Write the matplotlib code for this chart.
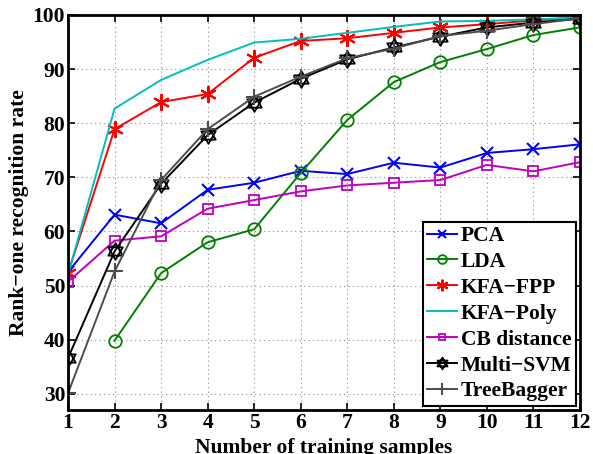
import matplotlib
matplotlib.use("Agg")
import matplotlib.pyplot as plt
import numpy as np
from matplotlib.path import Path

plt.rcParams['font.family'] = ['Liberation Serif', 'DejaVu Serif']
plt.rcParams['font.weight'] = 'bold'

samples = list(range(1, 13))
pca = [52.5, 63.1, 61.5, 67.7, 69.0, 71.2, 70.6, 72.7, 71.8, 74.5, 75.2, 76.1]
lda_x = list(range(2, 13))
lda = [39.8, 52.3, 58.0, 60.4, 70.8, 80.6, 87.6, 91.3, 93.7, 96.3, 97.7]
kfa_fpp = [52.3, 78.9, 83.9, 85.4, 92.1, 95.2, 95.7, 96.7, 97.7, 98.3, 99.0, 99.6]
kfa_poly = [52.0, 82.7, 88.0, 91.7, 94.9, 95.6, 96.7, 97.8, 98.8, 98.9, 99.2, 99.5]
cb_dist = [50.7, 58.3, 59.1, 64.2, 65.8, 67.4, 68.5, 69.0, 69.5, 72.3, 71.1, 72.8]
multi_svm = [36.6, 56.3, 68.8, 77.8, 83.8, 88.2, 91.8, 94.0, 96.0, 97.7, 98.6, 99.3]
treebagger = [30.1, 52.6, 69.5, 78.9, 84.9, 88.6, 92.0, 93.8, 96.1, 97.1, 98.3, 99.4]

yticks = [30, 40, 50, 60, 70, 80, 90, 100]

# hexagram marker (two overlapping triangles), like MATLAB 'h'
ang_up = np.deg2rad([90, 210, 330])
ang_dn = np.deg2rad([270, 30, 150])
verts = ([(np.cos(a), np.sin(a)) for a in ang_up] + [(0, 0)] +
         [(np.cos(a), np.sin(a)) for a in ang_dn] + [(0, 0)])
codes = ([Path.MOVETO, Path.LINETO, Path.LINETO, Path.CLOSEPOLY] * 2)
hexagram = Path(verts, codes)

fig = plt.figure(figsize=(5.93, 4.54), dpi=100)
ax = fig.add_axes([0.1147, 0.0969, 0.8633, 0.8701])

lw = 1.4
ax.plot(samples, pca, color=(0, 0, 1), marker='x', ms=9, mew=1.5, lw=lw, label='PCA')
ax.plot(lda_x, lda, color=(0, 0.5, 0), marker='o', ms=9, mfc='none', mew=1.3, lw=lw, label='LDA')
ax.plot(samples, kfa_fpp, color=(1, 0, 0), marker=(6, 2, 0), ms=12, mew=1.5, lw=lw, label='KFA\u2212FPP')
ax.plot(samples, kfa_poly, color=(0, 0.75, 0.75), lw=lw, label='KFA\u2212Poly')
ax.plot(samples, cb_dist, color=(0.75, 0, 0.75), marker='s', ms=7, mfc='none', mew=1.3, lw=lw, label='CB distance')
ax.plot(samples, multi_svm, color='black', marker=hexagram, ms=12, mfc='none', mew=1.3, lw=lw, label='Multi\u2212SVM')
ax.plot(samples, treebagger, color=(0.3, 0.3, 0.3), marker='+', ms=12, mew=1.5, lw=lw, label='TreeBagger')

ax.set_xlim(1, 12)
ax.set_ylim(27, 100)
ax.set_xticks(samples)
ax.set_yticks(yticks)
ax.grid(True, linestyle=(0, (1, 3)), color='0.55', lw=0.8)
ax.tick_params(direction='in', top=True, right=True, length=5, width=1.2,
               labelsize=15.5, pad=2)
for lab in ax.get_xticklabels() + ax.get_yticklabels():
    lab.set_fontweight('bold')
for s in ax.spines.values():
    s.set_linewidth(2)

ax.set_xlabel('Number of training samples', fontsize=15.5, fontweight='bold', labelpad=3.5)
ax.set_ylabel('Rank\u2212one recognition rate', fontsize=15.5, fontweight='bold', labelpad=3)

leg = ax.legend(loc='lower right', prop={'weight': 'bold', 'size': 15.5},
                frameon=True, fancybox=False, edgecolor='black', framealpha=1,
                borderpad=0.2, labelspacing=0.27, handlelength=1.4, handletextpad=0.15,
                borderaxespad=0.2, markerscale=0.7)
leg.get_frame().set_linewidth(1.5)

fig.savefig('out.png', dpi=100)
